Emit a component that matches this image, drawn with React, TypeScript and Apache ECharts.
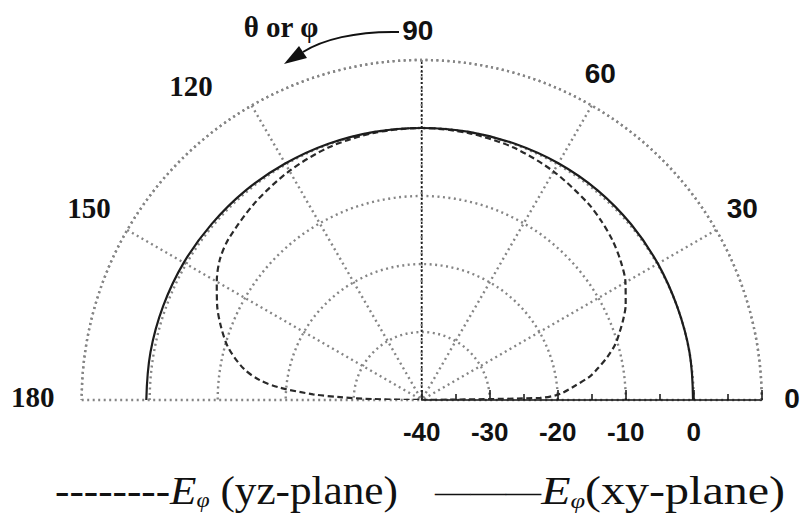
import { useEffect, useRef } from 'react';
import * as echarts from 'echarts';

// Angular grid (degrees) and its labels
const angleTicks = [0, 30, 60, 90, 120, 150, 180];
const angleTickLabels = ['0', '30', '60', '90', '120', '150', '180'];

// Radial grid in dB; the +10 ring carries no label
const radiusTicks = [-40, -30, -20, -10, 0];
const radiusTickLabels = ['-40', '-30', '-20', '-10', '0'];

// E_phi, xy-plane (solid)
const xyAngles = [0, 10, 20, 30, 40, 50, 60, 70, 80, 90, 100, 110, 120, 130, 140, 150, 160, 170, 180];
const xyValues = [-0.1, 0, 0, 0.1, 0.2, 0.25, 0.2, 0.1, 0.05, 0, 0.05, 0.1, 0.15, 0.25, 0.3, 0.4, 0.45, 0.5, 0.5];

// E_phi, yz-plane (dashed)
const yzAngles = [0, 1, 2, 3, 5, 8, 10, 13, 16, 19, 22, 25, 30, 35, 40, 45, 50, 60, 70, 80, 90,
  100, 110, 120, 130, 140, 145, 150, 155, 160, 165, 170, 173, 175, 177, 178, 179, 180];
const yzValues = [-40, -22.6, -20.3, -19.2, -17.6, -15, -13.8, -12, -10.4, -9.2, -8, -6.9, -5.4, -4.3, -3.4, -2.7, -2.1, -1.2, -0.5, -0.15, 0,
  -0.1, -0.4, -1.1, -2, -3, -3.8, -5.2, -6.8, -8.6, -10.6, -13.4, -16, -19, -24, -28, -33, -40];

const legendLabels = ['(yz-plane)', '(xy-plane)'];

// where each angle label sits, as [radius dB, angle deg]
const angleLabelSpots = [[14.45, 0.3], [14.9, 30.8], [14.7, 61.3], [14.4, 90.6], [17.3, 126.3], [16.5, 150], [17.2, 179.6]];

const INK = '#111';
const GRID = '#858585';

export default function App() {
  const ref = useRef<HTMLDivElement>(null);

  useEffect(() => {
    const chart = echarts.init(ref.current!, null, { renderer: 'svg' });
    chart.setOption({
      animation: false,
      backgroundColor: '#ffffff',
      polar: { center: [421.7, 400], radius: 340 },
      angleAxis: {
        type: 'value',
        startAngle: 0,
        endAngle: 180,
        clockwise: false,
        min: 0,
        max: 180,
        interval: 30,
        axisLine: { show: true, lineStyle: { color: GRID, width: 2.4, type: [2, 3.5] } },
        axisTick: { show: false },
        axisLabel: { show: false },
        splitLine: { show: true, lineStyle: { color: GRID, width: 2.4, type: [2, 3.5] } },
      },
      radiusAxis: {
        type: 'value',
        min: -40,
        max: 10,
        interval: 10,
        axisLine: { show: true, lineStyle: { color: INK, width: 1.6 } },
        axisTick: { show: true, length: 10, lineStyle: { color: INK, width: 1.5 } },
        minorTick: { show: true, splitNumber: 2, length: 6, lineStyle: { color: INK, width: 1.5 } },
        splitLine: { show: true, lineStyle: { color: GRID, width: 2.4, type: [2, 3.5] } },
        axisLabel: { show: false },
      },
      series: [
        {
          name: 'xy-plane',
          type: 'line',
          coordinateSystem: 'polar',
          data: xyAngles.map((a, i) => [xyValues[i], a]),
          showSymbol: false,
          smooth: 0.4,
          lineStyle: { color: '#1c1c1c', width: 2.2 },
          z: 5,
        },
        {
          name: 'yz-plane',
          type: 'line',
          coordinateSystem: 'polar',
          data: yzAngles.map((a, i) => [yzValues[i], a]),
          showSymbol: false,
          smooth: 0.3,
          lineStyle: { color: '#2a2a2a', width: 2.2, type: [6, 3.5] },
          z: 4,
        },
        {
          name: 'broadside',
          type: 'line',
          coordinateSystem: 'polar',
          data: [[-40, 90], [10, 90]],
          showSymbol: false,
          lineStyle: { color: '#222', width: 1.6, type: [2, 2] },
          z: 3,
        },
      ],
    });

    const toPx = (r: number, a: number) => chart.convertToPixel({ seriesIndex: 0 }, [r, a]) as number[];
    const graphics: any[] = [];

    angleTicks.forEach((a, i) => {
      const [r, ang] = angleLabelSpots[i];
      const [x, y] = toPx(r, ang);
      graphics.push({
        type: 'text',
        x,
        y,
        style: {
          text: angleTickLabels[i],
          align: 'center',
          verticalAlign: 'middle',
          fontFamily: a > 90 ? 'Liberation Serif' : 'Liberation Sans',
          fontWeight: 'bold',
          fontSize: a > 90 ? 29 : 28,
          fill: INK,
        },
      });
    });

    radiusTicks.forEach((v, i) => {
      const [x, y] = toPx(v, 0);
      graphics.push({
        type: 'text',
        x,
        y: y + 32,
        style: {
          text: radiusTickLabels[i],
          align: 'center',
          verticalAlign: 'middle',
          fontFamily: 'Liberation Sans',
          fontWeight: 'bold',
          fontSize: 26,
          fill: INK,
        },
      });
    });

    // rotation sense annotation
    graphics.push({
      type: 'text',
      x: 281,
      y: 27,
      style: {
        text: 'θ or φ',
        align: 'center',
        verticalAlign: 'middle',
        fontFamily: 'Liberation Serif',
        fontWeight: 'bold',
        fontSize: 29,
        fill: INK,
      },
    });
    graphics.push({
      type: 'bezierCurve',
      shape: { x1: 399, y1: 32, cpx1: 355, cpy1: 31, cpx2: 322, cpy2: 40, x2: 303, y2: 52 },
      style: { stroke: INK, lineWidth: 2, fill: 'none' },
    });
    graphics.push({
      type: 'polygon',
      shape: { points: [[284, 64], [299, 46], [307, 58]] },
      style: { fill: INK },
    });

    const legendRich = {
      d: { fontFamily: 'Liberation Serif', fontSize: 40, fill: INK, verticalAlign: 'bottom' },
      m: { fontFamily: 'Liberation Serif', fontSize: 29.5, fill: INK, verticalAlign: 'bottom', padding: [0, 0, 4, 0] },
      e: { fontFamily: 'Liberation Serif', fontStyle: 'italic', fontSize: 40, fill: INK, verticalAlign: 'bottom' },
      s: { fontFamily: 'Liberation Serif', fontStyle: 'italic', fontSize: 22, fill: INK, verticalAlign: 'bottom', lineHeight: 14 },
      t: { fontFamily: 'Liberation Serif', fontSize: 40, fill: INK, verticalAlign: 'bottom' },
    };
    graphics.push({
      type: 'text',
      x: 55,
      y: 511,
      scaleX: 1.08,
      style: {
        text: `{d|--------}{e|E}{s|φ}{t| ${legendLabels[0]}}`,
        rich: legendRich,
        align: 'left',
        verticalAlign: 'bottom',
        fill: INK,
      },
    });
    graphics.push({
      type: 'text',
      x: 435,
      y: 511,
      scaleX: 1.2,
      style: {
        text: `{m|———}{e|E}{s|φ}{t|${legendLabels[1]}}`,
        rich: legendRich,
        align: 'left',
        verticalAlign: 'bottom',
        fill: INK,
      },
    });

    chart.setOption({ graphic: graphics });
    return () => chart.dispose();
  }, []);

  return <div ref={ref} style={{ position: 'absolute', left: 0, top: 0, width: 801, height: 514 }} />;
}
